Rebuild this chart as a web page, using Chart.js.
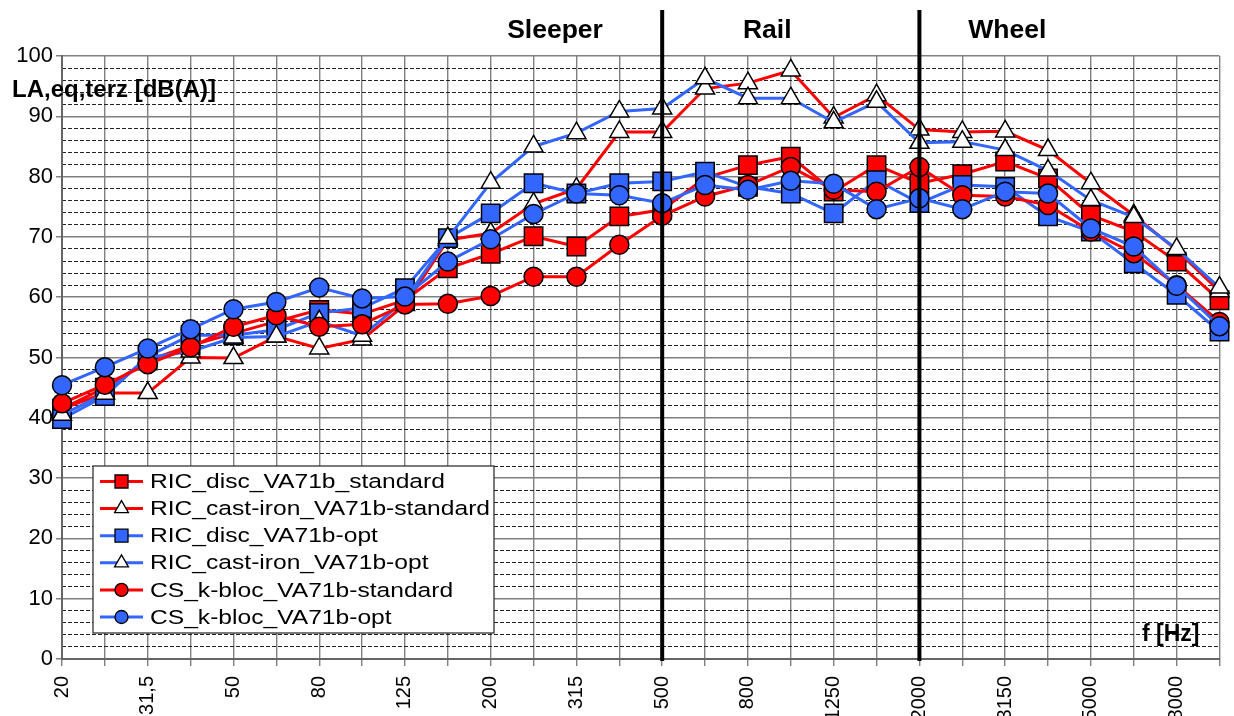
<!DOCTYPE html>
<html>
<head>
<meta charset="utf-8">
<title>LA,eq,terz [dB(A)]</title>
<script src="https://cdn.jsdelivr.net/npm/chart.js"></script>
<style>
    html, body { margin: 0; padding: 0; background: #fff; }
    #wrap { width: 1234px; height: 716px; overflow: hidden; }
</style>
</head>
<body>
<div id="wrap"><canvas id="spectrum" width="1234" height="716"></canvas></div>
<script>
// third-octave bands, Hz
const bands = ['20', '25', '31,5', '40', '50', '63', '80', '100', '125', '160', '200', '250', '315', '400',
    '500', '630', '800', '1000', '1250', '1600', '2000', '2500', '3150', '4000', '5000', '6300', '8000', '10000'];

// LA,eq per band, dB(A)
const ricDiscStandard = [41.5, 45.0, 49.5, 52.0, 54.0, 56.0, 57.9, 57.2, 59.5, 64.8, 67.2, 70.1, 68.4, 73.4,
    74.5, 79.8, 81.9, 83.3, 77.5, 81.9, 78.9, 80.4, 82.5, 79.7, 73.6, 70.9, 65.9, 59.5];
const ricCastIronStandard = [41.5, 44.1, 44.1, 50.0, 49.9, 53.5, 51.5, 53.0, 58.7, 69.5, 70.6, 75.5, 78.0, 87.4,
    87.4, 94.6, 95.5, 97.6, 89.8, 93.5, 87.8, 87.4, 87.5, 84.4, 78.9, 73.6, 67.8, 61.0];
const ricDiscOpt = [39.8, 43.6, 50.2, 53.7, 53.7, 54.6, 57.4, 58.2, 61.5, 69.8, 73.9, 78.9, 77.2, 78.9,
    79.2, 80.8, 78.3, 77.2, 73.9, 79.4, 75.6, 78.6, 78.3, 73.4, 70.9, 65.6, 60.4, 54.3];
const ricCastIronOpt = [40.5, 44.0, 50.0, 51.0, 53.3, 53.5, 56.0, 53.6, 59.5, 69.8, 79.0, 85.0, 87.2, 90.8,
    91.3, 96.3, 93.0, 93.0, 89.0, 92.4, 85.6, 85.8, 84.4, 81.0, 76.1, 73.3, 68.0, 61.6];
const csKblocStandard = [42.4, 45.5, 48.9, 51.7, 55.1, 57.0, 55.1, 55.5, 58.8, 58.9, 60.2, 63.4, 63.4, 68.7,
    73.5, 76.7, 78.6, 81.6, 77.8, 77.5, 81.6, 76.9, 76.7, 75.3, 70.9, 67.3, 62.0, 55.9];
const csKblocOpt = [45.4, 48.4, 51.5, 54.7, 58.0, 59.2, 61.6, 59.8, 60.1, 65.9, 69.6, 73.8, 77.2, 76.9,
    75.6, 78.6, 77.8, 79.3, 78.8, 74.6, 76.4, 74.6, 77.5, 77.2, 71.4, 68.4, 61.9, 55.2];

const seriesNames = ['RIC_disc_VA71b_standard', 'RIC_cast-iron_VA71b-standard', 'RIC_disc_VA71b-opt',
    'RIC_cast-iron_VA71b-opt', 'CS_k-bloc_VA71b-standard', 'CS_k-bloc_VA71b-opt'];

// source regions, split at 500 Hz and 2000 Hz
const regionNames = ['Sleeper', 'Rail', 'Wheel'];
const regionSplits = ['500', '2000'];

const yTitle = 'LA,eq,terz [dB(A)]';
const xTitle = 'f [Hz]';

const RED = '#ff0000';
const BLUE = '#3366ff';
const FONT = '"Liberation Sans", Arial, Helvetica, sans-serif';

function makeSeries(index, data, color, marker, fill) {
    let radius = 9.5;
    if (marker === 'rect') radius = 13;
    if (marker === 'triangle') radius = 11;

    return {
        label: seriesNames[index],
        data: data,
        borderColor: color,
        backgroundColor: fill,
        borderWidth: 3,
        pointStyle: marker,
        pointRadius: radius,
        pointHoverRadius: radius,
        pointBackgroundColor: fill,
        pointBorderColor: '#000',
        pointBorderWidth: 1.5,
        tension: 0,
        clip: false,
        // last series ends up on top
        order: seriesNames.length - 1 - index
    };
}

function drawMarker(ctx, style, fill, x, y) {
    ctx.beginPath();
    if (style === 'rect') {
        ctx.rect(x - 6.5, y - 6.5, 13, 13);
    } else if (style === 'triangle') {
        const r = 8;
        ctx.moveTo(x, y - r);
        ctx.lineTo(x + r * 0.866, y + r / 2);
        ctx.lineTo(x - r * 0.866, y + r / 2);
        ctx.closePath();
    } else {
        ctx.arc(x, y, 6.5, 0, Math.PI * 2);
    }
    ctx.fillStyle = fill;
    ctx.fill();
    ctx.lineWidth = 1.3;
    ctx.strokeStyle = '#000';
    ctx.stroke();
}

function drawLegend(chart) {
    const ctx = chart.ctx;
    const area = chart.chartArea;
    const left = area.left + 31;
    const bottom = area.bottom - 26;
    const rowHeight = 27.1;
    const width = 401;
    const height = 167;
    const top = bottom - height;

    ctx.save();
    ctx.fillStyle = '#fff';
    ctx.fillRect(left, top, width, height);
    ctx.lineWidth = 1.3;
    ctx.strokeStyle = '#333';
    ctx.strokeRect(left, top, width, height);

    chart.data.datasets.forEach((ds, i) => {
        const y = top + 15.5 + i * rowHeight;

        ctx.beginPath();
        ctx.moveTo(left + 7, y);
        ctx.lineTo(left + 50, y);
        ctx.lineWidth = 3;
        ctx.strokeStyle = ds.borderColor;
        ctx.stroke();

        drawMarker(ctx, ds.pointStyle, ds.pointBackgroundColor, left + 28.5, y);

        // the legend face is a touch wider than plain Arial
        ctx.save();
        ctx.translate(left + 57, y);
        ctx.scale(1.2, 1);
        ctx.font = '20.5px ' + FONT;
        ctx.fillStyle = '#000';
        ctx.textAlign = 'left';
        ctx.textBaseline = 'middle';
        ctx.fillText(ds.label, 0, 1);
        ctx.restore();
    });
    ctx.restore();
}

const annotations = {
    id: 'annotations',
    afterDatasetsDraw(chart) {
        const ctx = chart.ctx;
        const area = chart.chartArea;
        const x = chart.scales.x;

        ctx.save();

        // region separators
        regionSplits.forEach(band => {
            const px = x.getPixelForValue(bands.indexOf(band));
            ctx.beginPath();
            ctx.moveTo(px, 10);
            ctx.lineTo(px, area.bottom + 2);
            ctx.lineWidth = 4;
            ctx.strokeStyle = '#000';
            ctx.stroke();
        });

        ctx.fillStyle = '#000';
        ctx.font = 'bold 26.5px ' + FONT;
        ctx.textAlign = 'center';
        ctx.textBaseline = 'alphabetic';
        const titleAt = [11.5, 16.45, 22.05];
        regionNames.forEach((name, i) => {
            ctx.fillText(name, x.getPixelForValue(titleAt[i]), 38);
        });

        ctx.font = 'bold 24px ' + FONT;
        ctx.textAlign = 'left';
        ctx.fillText(yTitle, 12, area.top + 41);

        ctx.font = 'bold 23px ' + FONT;
        ctx.textAlign = 'right';
        ctx.fillText(xTitle, area.right - 20, area.bottom - 18);

        ctx.restore();
    },
    afterDraw(chart) {
        drawLegend(chart);
    }
};

const datasets = [
    makeSeries(0, ricDiscStandard, RED, 'rect', RED),
    makeSeries(1, ricCastIronStandard, RED, 'triangle', '#fff'),
    makeSeries(2, ricDiscOpt, BLUE, 'rect', BLUE),
    makeSeries(3, ricCastIronOpt, BLUE, 'triangle', '#fff'),
    makeSeries(4, csKblocStandard, RED, 'circle', RED),
    makeSeries(5, csKblocOpt, BLUE, 'circle', BLUE)
];

new Chart(document.getElementById('spectrum'), {
    type: 'line',
    data: {
        labels: bands,
        datasets: datasets
    },
    options: {
        responsive: false,
        animation: false,
        events: [],
        layout: {
            padding: { top: 56, right: 12, bottom: 0, left: 0 }
        },
        scales: {
            x: {
                type: 'category',
                offset: false,
                grid: {
                    offset: false,
                    color: '#808080',
                    lineWidth: 1.4,
                    tickLength: 7,
                    tickColor: '#808080'
                },
                border: { color: '#666', width: 2 },
                ticks: {
                    autoSkip: false,
                    minRotation: 90,
                    maxRotation: 90,
                    padding: 10,
                    color: '#000',
                    font: { family: FONT, size: 20 },
                    callback: function(value, index) {
                        return index % 2 === 0 ? this.getLabelForValue(value) : '';
                    }
                },
                afterFit(scale) {
                    scale.height = 57;
                    scale.paddingLeft = 0;
                    scale.paddingRight = 0;
                }
            },
            y: {
                min: 0,
                max: 100,
                position: 'left',
                grid: {
                    color: '#808080',
                    lineWidth: 1.5,
                    tickLength: 6,
                    tickColor: '#808080'
                },
                border: { color: '#666', width: 2 },
                ticks: {
                    stepSize: 10,
                    padding: 3,
                    color: '#000',
                    font: { family: FONT, size: 22 }
                },
                afterFit(scale) {
                    scale.width = 62;
                }
            },
            yMinor: {
                min: 0,
                max: 100,
                position: 'left',
                grid: {
                    drawTicks: false,
                    lineWidth: 1,
                    color: ctx => ctx.tick && ctx.tick.value % 10 === 0 ? 'rgba(0,0,0,0)' : '#222'
                },
                border: { display: false, dash: [4, 2] },
                ticks: { display: false, stepSize: 2 },
                afterFit(scale) {
                    scale.width = 0;
                }
            }
        },
        plugins: {
            legend: { display: false },
            tooltip: { enabled: false },
            title: { display: false }
        }
    },
    plugins: [annotations]
});
</script>
</body>
</html>
